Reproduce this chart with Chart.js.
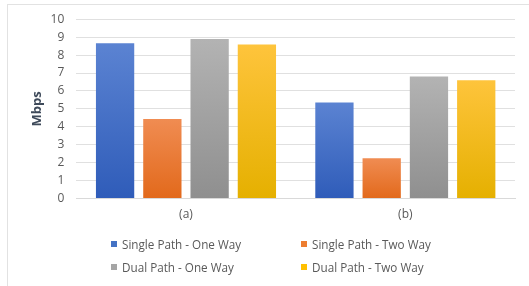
<!DOCTYPE html>
<html>
<head>
<meta charset="utf-8">
<script src="https://cdn.jsdelivr.net/npm/chart.js@4.4.0/dist/chart.umd.min.js"></script>
<style>
  html, body { margin: 0; padding: 0; background: #fff; }
  #wrap { position: relative; width: 529px; height: 286px; overflow: hidden; }
  #frame { position: absolute; left: 7px; top: 4px; right: -5px; bottom: -5px;
           border-left: 1px solid #e2e2e2; border-top: 1px solid #e2e2e2; }
  #chart { position: absolute; left: 0; top: 0; }
  #legend { position: absolute; left: 111px; top: 232px; display: grid;
            grid-template-columns: 190px 190px; grid-auto-rows: 23px;
            font: 11.7px "Open Sans", sans-serif; color: #595959; }
  #legend div { display: flex; align-items: center; white-space: nowrap; }
  #legend span.box { display: inline-block; width: 6px; height: 6px; margin-right: 5px; }
</style>
</head>
<body>
<div id="wrap">
  <div id="frame"></div>
  <canvas id="chart" width="529" height="286"></canvas>
  <div id="legend"></div>
</div>
<script>
const categories = ["(a)", "(b)"];
const seriesNames = ["Single Path - One Way", "Single Path - Two Way", "Dual Path - One Way", "Dual Path - Two Way"];
const singleOneWay = [8.66, 5.36];
const singleTwoWay = [4.44, 2.25];
const dualOneWay = [8.9, 6.81];
const dualTwoWay = [8.59, 6.6];
const yTicks = [0, 1, 2, 3, 4, 5, 6, 7, 8, 9, 10];

// base colour, lighter top, darker bottom
const colours = [
  ["#4472c4", "#5b83d2", "#2f5cb9"],
  ["#ed7d31", "#f08c52", "#e2691b"],
  ["#a5a5a5", "#b3b3b3", "#8f8f8f"],
  ["#ffc000", "#fec43c", "#e5b000"]
];

function barFill(i) {
  return (ctx) => {
    if (ctx.type !== 'data') return colours[i][0];
    const y = ctx.chart.scales.y;
    if (!y) return colours[i][0];
    const top = y.getPixelForValue(ctx.raw);
    const bottom = y.getPixelForValue(0);
    if (!isFinite(top) || !isFinite(bottom) || top === bottom) return colours[i][0];
    const g = ctx.chart.ctx.createLinearGradient(0, top, 0, bottom);
    g.addColorStop(0, colours[i][1]);
    g.addColorStop(1, colours[i][2]);
    return g;
  };
}

const values = [singleOneWay, singleTwoWay, dualOneWay, dualTwoWay];

const htmlLegend = {
  id: 'htmlLegend',
  afterUpdate(chart) {
    const box = document.getElementById('legend');
    box.innerHTML = '';
    chart.data.datasets.forEach((ds, i) => {
      const item = document.createElement('div');
      const sq = document.createElement('span');
      sq.className = 'box';
      sq.style.background = colours[i][0];
      item.appendChild(sq);
      item.appendChild(document.createTextNode(ds.label));
      box.appendChild(item);
    });
  }
};

new Chart(document.getElementById('chart'), {
  type: 'bar',
  data: {
    labels: categories,
    datasets: seriesNames.map((name, i) => ({
      label: name,
      data: values[i],
      backgroundColor: barFill(i),
      borderWidth: 0,
      barPercentage: 0.81,
      categoryPercentage: 0.862
    }))
  },
  options: {
    responsive: false,
    animation: false,
    layout: { padding: { left: 23, right: 14, top: 19, bottom: 63 } },
    plugins: {
      legend: { display: false },
      tooltip: { enabled: false }
    },
    scales: {
      x: {
        grid: { display: false },
        border: { display: true, color: '#d9d9d9' },
        ticks: { color: '#595959', font: { family: 'Open Sans', size: 12 }, padding: 1 }
      },
      y: {
        min: 0,
        max: 10,
        afterBuildTicks: (axis) => { axis.ticks = yTicks.map(v => ({ value: v })); },
        grid: { color: '#e0e0e0', drawTicks: false },
        border: { display: false },
        ticks: { color: '#595959', font: { family: 'Open Sans', size: 12 }, padding: 12 },
        title: {
          display: true,
          text: 'Mbps',
          color: '#3e4a5a',
          font: { family: 'Open Sans', size: 13, weight: 'bold' },
          padding: { top: 6, bottom: -6 }
        }
      }
    }
  },
  plugins: [htmlLegend]
});
</script>
</body>
</html>
